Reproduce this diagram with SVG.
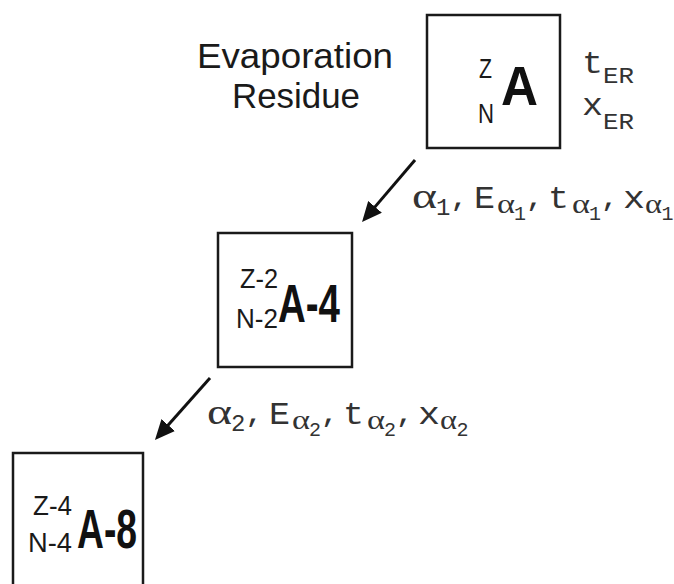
<svg xmlns="http://www.w3.org/2000/svg" width="674" height="584" viewBox="0 0 674 584">
<defs>
<style>
.box{fill:#fff;stroke:#1a1a1a;stroke-width:2.5}
.sans{font-family:"Liberation Sans",Arial,sans-serif;fill:#1a1a1a}
.big{font-family:"Liberation Sans",Arial,sans-serif;font-weight:bold;fill:#111}
.mono{font-family:"Liberation Mono","Courier New",monospace;fill:#333}
.greek{font-family:"Liberation Serif","Times New Roman",serif;fill:#333}
.cm{font-family:"Liberation Mono","Courier New",monospace;fill:#333;font-size:26px;font-weight:bold}
.conn{stroke:#111;stroke-width:3;fill:none}
</style>
<marker id="ah" viewBox="0 0 20 18" refX="5" refY="9" markerWidth="20" markerHeight="18" markerUnits="userSpaceOnUse" orient="auto">
<path d="M0,0 L20,9 L0,18 z" fill="#111"/>
</marker>
</defs>
<rect width="674" height="584" fill="#fff"/>
<text class="sans" x="295" y="68" font-size="35" text-anchor="middle" textLength="196" lengthAdjust="spacingAndGlyphs">Evaporation</text>
<text class="sans" x="296" y="108" font-size="35" text-anchor="middle" textLength="128" lengthAdjust="spacingAndGlyphs">Residue</text>
<g id="node-ER">
<rect class="box" x="427" y="15" width="133" height="133"/>
<text class="sans" x="479" y="78" font-size="28" textLength="13" lengthAdjust="spacingAndGlyphs">Z</text>
<text class="sans" x="478" y="123" font-size="28" textLength="16" lengthAdjust="spacingAndGlyphs">N</text>
<text class="big" x="501" y="105" font-size="55" textLength="37" lengthAdjust="spacingAndGlyphs">A</text>
</g>
<g id="node-A4">
<rect class="box" x="218" y="233" width="134" height="134"/>
<text class="sans" x="240" y="288" font-size="27" textLength="38" lengthAdjust="spacingAndGlyphs">Z-2</text>
<text class="sans" x="236" y="328" font-size="27" textLength="42" lengthAdjust="spacingAndGlyphs">N-2</text>
<text class="big" x="278" y="322" font-size="53" textLength="62" lengthAdjust="spacingAndGlyphs">A-4</text>
</g>
<g id="node-A8">
<rect class="box" x="13" y="453" width="130" height="140"/>
<text class="sans" x="33" y="515" font-size="27" textLength="39" lengthAdjust="spacingAndGlyphs">Z-4</text>
<text class="sans" x="28" y="552" font-size="27" textLength="44" lengthAdjust="spacingAndGlyphs">N-4</text>
<text class="big" x="77" y="548" font-size="56" textLength="60" lengthAdjust="spacingAndGlyphs">A-8</text>
</g>
<g id="labels-ER">
<text class="mono" x="582" y="73" font-size="32" textLength="21" lengthAdjust="spacingAndGlyphs">t</text>
<text class="mono" x="603" y="83" font-size="22" textLength="31" lengthAdjust="spacingAndGlyphs">ER</text>
<text class="mono" x="582" y="115" font-size="32" textLength="21" lengthAdjust="spacingAndGlyphs">x</text>
<text class="mono" x="603" y="129" font-size="22" textLength="31" lengthAdjust="spacingAndGlyphs">ER</text>
</g>
<g id="connectors">
<line class="conn" x1="415" y1="160" x2="371.8" y2="210.6" marker-end="url(#ah)"/>
<line class="conn" x1="210" y1="378" x2="164.9" y2="428.8" marker-end="url(#ah)"/>
</g>
<g id="label-alpha1">
<text class="greek" x="412" y="208" font-size="36" textLength="25" lengthAdjust="spacingAndGlyphs">α</text>
<text class="mono" x="436" y="215" font-size="24">1</text>
<text class="cm" x="451" y="206">,</text>
<text class="mono" x="474" y="208" font-size="31" textLength="21" lengthAdjust="spacingAndGlyphs">E</text>
<text class="greek" x="497" y="213" font-size="27" textLength="18" lengthAdjust="spacingAndGlyphs">α</text>
<text class="mono" x="514" y="220" font-size="20">1</text>
<text class="cm" x="526.5" y="206">,</text>
<text class="mono" x="548" y="208" font-size="31" textLength="21" lengthAdjust="spacingAndGlyphs">t</text>
<text class="greek" x="572" y="213" font-size="27" textLength="18" lengthAdjust="spacingAndGlyphs">α</text>
<text class="mono" x="589" y="220" font-size="20">1</text>
<text class="cm" x="601.5" y="206">,</text>
<text class="mono" x="623" y="208" font-size="31" textLength="22" lengthAdjust="spacingAndGlyphs">x</text>
<text class="greek" x="645" y="213" font-size="27" textLength="17" lengthAdjust="spacingAndGlyphs">α</text>
<text class="mono" x="661.5" y="220" font-size="20">1</text>
</g>
<g id="label-alpha2">
<text class="greek" x="207" y="424" font-size="36" textLength="25" lengthAdjust="spacingAndGlyphs">α</text>
<text class="mono" x="231" y="431" font-size="24">2</text>
<text class="cm" x="246" y="422">,</text>
<text class="mono" x="269" y="424" font-size="31" textLength="21" lengthAdjust="spacingAndGlyphs">E</text>
<text class="greek" x="292" y="429" font-size="27" textLength="18" lengthAdjust="spacingAndGlyphs">α</text>
<text class="mono" x="309" y="436" font-size="20">2</text>
<text class="cm" x="321.5" y="422">,</text>
<text class="mono" x="343" y="424" font-size="31" textLength="21" lengthAdjust="spacingAndGlyphs">t</text>
<text class="greek" x="367" y="429" font-size="27" textLength="18" lengthAdjust="spacingAndGlyphs">α</text>
<text class="mono" x="384" y="436" font-size="20">2</text>
<text class="cm" x="396.5" y="422">,</text>
<text class="mono" x="418" y="424" font-size="31" textLength="22" lengthAdjust="spacingAndGlyphs">x</text>
<text class="greek" x="440" y="429" font-size="27" textLength="17" lengthAdjust="spacingAndGlyphs">α</text>
<text class="mono" x="456.5" y="436" font-size="20">2</text>
</g>
</svg>
